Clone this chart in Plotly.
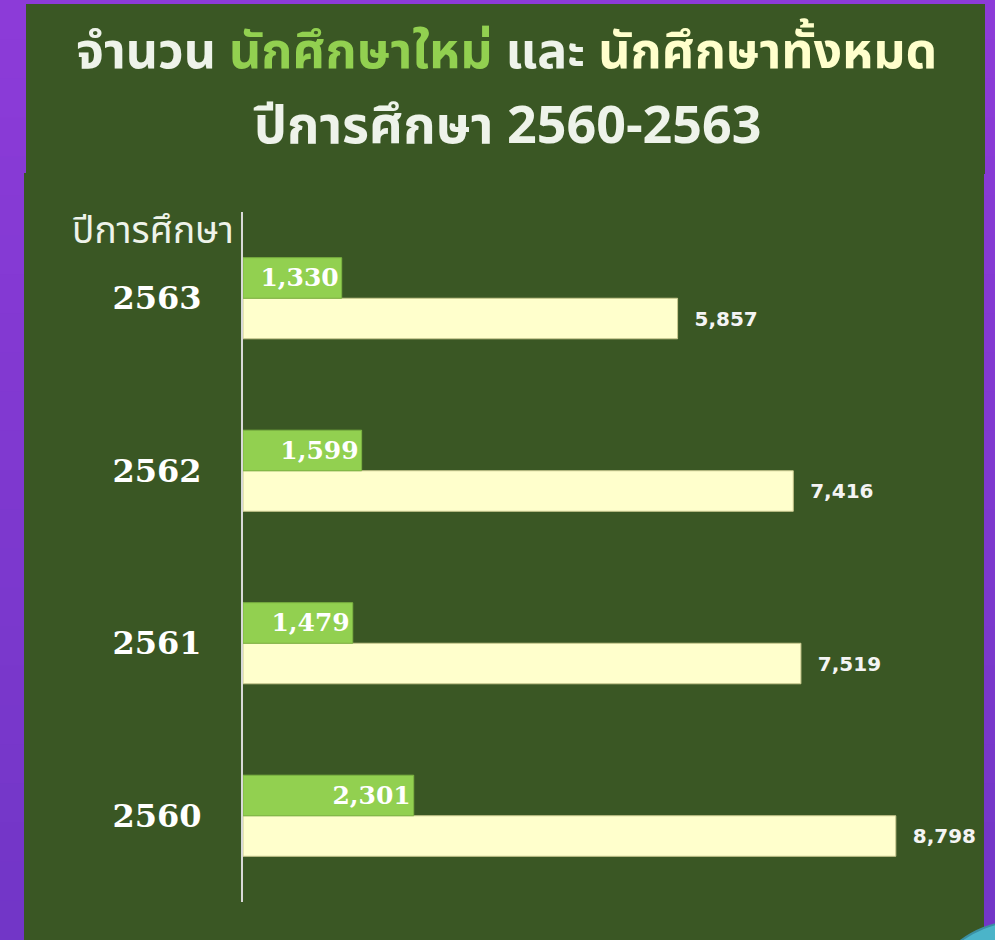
import plotly.graph_objects as go

# ---- data ----
years = ["2560", "2561", "2562", "2563"]
new_students = [2301, 1479, 1599, 1330]
total_students = [8798, 7519, 7416, 5857]
title_line1 = ["จำนวน ", "นักศึกษาใหม่", " และ ", "นักศึกษาทั้งหมด"]
title_line2 = "ปีการศึกษา 2560-2563"
axis_title = "ปีการศึกษา"

# ---- geometry helpers (pixel -> paper) ----
W, H = 995, 940
L, R, T, B = 243, 985, 212, 902
def px(x):
    return (x - L) / (R - L)
def py(y):
    return (B - y) / (B - T)

GREEN_BG = "#3A5724"
LIGHT_GREEN = "#92D050"
CREAM = "#FFFFCC"
TXT = "#EEF3EA"
THAI = "Noto Sans Thai, Loma, Garuda, Tahoma, sans-serif"

fig = go.Figure()
fig.add_trace(go.Bar(
    y=years, x=total_students, orientation="h", name="นักศึกษาทั้งหมด",
    marker=dict(color=CREAM, line=dict(color="#C9C98F", width=1)),
    text=["\u00a0\u00a0" + f"{v:,}" for v in total_students],
    textposition="outside", cliponaxis=False, constraintext="none",
    textfont=dict(family="DejaVu Sans", size=20, color="#F4F4F4", weight="bold"),
    hoverinfo="skip",
))
fig.add_trace(go.Bar(
    y=years, x=new_students, orientation="h", name="นักศึกษาใหม่",
    marker=dict(color=LIGHT_GREEN, line=dict(color="#7CB342", width=1)),
    text=[f"{v:,}" for v in new_students],
    textposition="inside", insidetextanchor="end", constraintext="none",
    textfont=dict(family="DejaVu Serif", size=25, color="#FFFFFF", weight="bold"),
    hoverinfo="skip",
))

shapes = []
# purple gradient background
top_c = (140, 59, 216)
bot_c = (114, 54, 199)
n = 24
for i in range(n):
    t = i / (n - 1)
    c = tuple(int(round(top_c[k] + (bot_c[k] - top_c[k]) * t)) for k in range(3))
    y0 = i * H / n
    y1 = (i + 1) * H / n + 1
    shapes.append(dict(type="rect", xref="paper", yref="paper",
                       x0=px(-5), x1=px(W + 5), y0=py(y1), y1=py(y0),
                       fillcolor="rgb(%d,%d,%d)" % c, line=dict(width=0), layer="below"))
# title panel
shapes.append(dict(type="rect", xref="paper", yref="paper",
                   x0=px(26), x1=px(985), y0=py(174), y1=py(4),
                   fillcolor=GREEN_BG, line=dict(width=0), layer="below"))
# chart panel
shapes.append(dict(type="rect", xref="paper", yref="paper",
                   x0=px(24), x1=px(984), y0=py(960), y1=py(173),
                   fillcolor=GREEN_BG, line=dict(width=0), layer="below"))
# decorative circle bottom right
shapes.append(dict(type="circle", xref="paper", yref="paper",
                   x0=px(1020 - 99), x1=px(1020 + 99), y0=py(1020 + 99), y1=py(1020 - 99),
                   fillcolor="#4BB4C9", line=dict(color="#3A8FA2", width=2), layer="below"))

annotations = [
    dict(xref="paper", yref="paper", x=px(506), y=py(53), xanchor="center", yanchor="middle",
         showarrow=False,
         text=(f"<span style='color:{TXT}'>{title_line1[0]}</span>"
               f"<span style='color:{LIGHT_GREEN}'>{title_line1[1]}</span>"
               f"<span style='color:{TXT}'>{title_line1[2]}</span>"
               f"<span style='color:{CREAM}'>{title_line1[3]}</span>"),
         font=dict(family=THAI, size=50, weight="bold")),
    dict(xref="paper", yref="paper", x=px(507), y=py(127), xanchor="center", yanchor="middle",
         showarrow=False, text=title_line2,
         font=dict(family=THAI, size=52, color=TXT, weight="bold")),
    dict(xref="paper", yref="paper", x=px(236), y=py(232), xanchor="right", yanchor="middle",
         showarrow=False, text=axis_title,
         font=dict(family=THAI, size=37, color=TXT)),
]

fig.update_layout(
    width=W, height=H,
    margin=dict(l=L, r=W - R, t=T, b=H - B, pad=0),
    paper_bgcolor="rgb(128,56,208)",
    plot_bgcolor="rgba(0,0,0,0)",
    barmode="group", bargap=0.53, bargroupgap=0,
    showlegend=False,
    shapes=shapes, annotations=annotations,
    xaxis=dict(range=[0, 10000], visible=False, fixedrange=True),
    yaxis=dict(type="category", categoryorder="array", categoryarray=years,
               range=[-0.5, 3.5], showline=True, linecolor="#D9D9D9", linewidth=2,
               showgrid=False, zeroline=False, ticks="", ticklabelstandoff=33,
               tickfont=dict(family="DejaVu Serif", size=32, color="#FFFFFF", weight="bold"),
               fixedrange=True),
)

fig.write_html("out.html", config={"displayModeBar": False},
               post_script="document.body.style.margin='0';document.body.style.padding='0';")
